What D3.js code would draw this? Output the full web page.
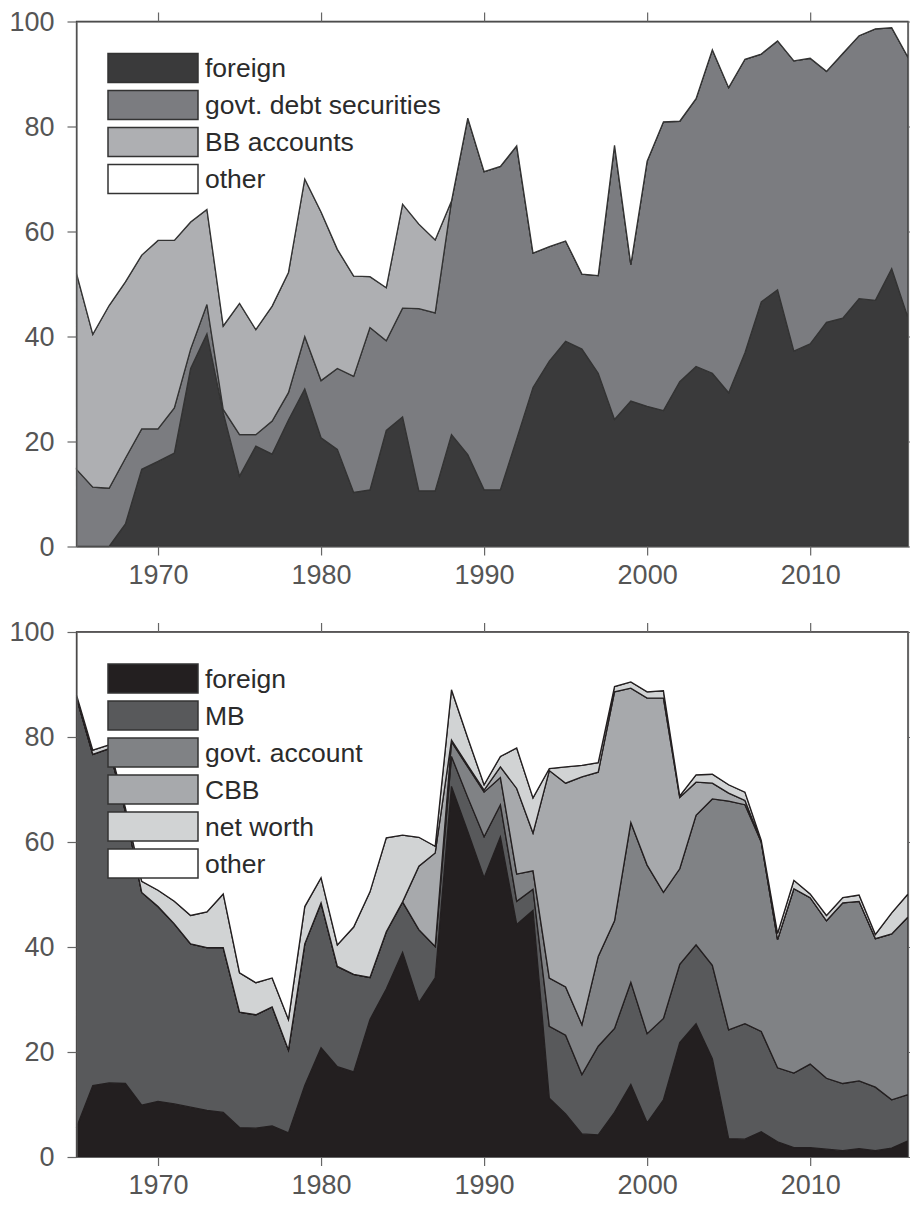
<!DOCTYPE html>
<html>
<head>
<meta charset="utf-8">
<script src="https://cdn.jsdelivr.net/npm/d3@7"></script>
<style>
  body { margin: 0; background: #fff; }
  svg text { font-family: "Liberation Sans", Arial, Helvetica, sans-serif; }
</style>
</head>
<body>
<div id="chart"></div>
<script>
// years shared by both panels
const years = [1965, 1966, 1967, 1968, 1969, 1970, 1971, 1972, 1973, 1974,
  1975, 1976, 1977, 1978, 1979, 1980, 1981, 1982, 1983, 1984,
  1985, 1986, 1987, 1988, 1989, 1990, 1991, 1992, 1993, 1994,
  1995, 1996, 1997, 1998, 1999, 2000, 2001, 2002, 2003, 2004,
  2005, 2006, 2007, 2008, 2009, 2010, 2011, 2012, 2013, 2014,
  2015, 2016]

const xTicks = [1970, 1980, 1990, 2000, 2010]
const yTicks = [0, 20, 40, 60, 80, 100]

// top panel shares (percent)
const topForeign = [0, 0, 0, 4.3, 14.7, 16.2, 17.8, 33.9, 40.5, 25.5,
  13.4, 19.1, 17.6, 24.1, 30.0, 20.7, 18.5, 10.3, 10.8, 22.1,
  24.7, 10.6, 10.6, 21.3, 17.5, 10.8, 10.8, 20.5, 30.3, 35.3,
  39.1, 37.6, 33.0, 24.2, 27.7, 26.7, 25.9, 31.4, 34.3, 33.0,
  29.3, 36.9, 46.6, 48.9, 37.2, 38.6, 42.7, 43.5, 47.2, 46.9,
  52.9, 43.6]
const topGovtDebt = [14.7, 11.3, 11.1, 12.5, 7.7, 6.2, 8.6, 3.7, 5.6, 0.6,
  7.9, 2.2, 6.3, 5.2, 10.0, 10.9, 15.4, 22.1, 30.9, 17.1,
  20.7, 34.7, 33.9, 44.5, 64.1, 60.6, 61.6, 55.8, 25.6, 21.8,
  19.1, 14.3, 18.6, 52.2, 26.0, 46.7, 55.0, 49.6, 51.0, 61.6,
  58.1, 55.9, 47.2, 47.4, 55.3, 54.4, 47.8, 50.4, 50.1, 51.7,
  45.9, 49.6]
const topBBAccounts = [37.3, 29.1, 34.8, 33.6, 33.1, 35.9, 31.9, 24.2, 18.1, 15.9,
  25.0, 20.0, 21.9, 22.9, 30.0, 32.1, 22.7, 19.1, 9.7, 10.1,
  19.8, 16.1, 13.9, 0, 0, 0, 0, 0, 0, 0,
  0, 0, 0, 0, 0, 0, 0, 0, 0, 0,
  0, 0, 0, 0, 0, 0, 0, 0, 0, 0,
  0, 0]

// bottom panel shares (percent)
const botForeign = [5.6, 13.6, 14.1, 14.0, 9.9, 10.6, 10.1, 9.5, 8.9, 8.5,
  5.6, 5.5, 5.9, 4.6, 13.6, 20.8, 17.2, 16.2, 26.2, 32.0,
  39.0, 29.4, 34.1, 70.6, 62.0, 53.2, 61.0, 44.3, 47.0, 11.2,
  8.2, 4.4, 4.2, 8.5, 13.8, 6.5, 10.9, 21.8, 25.4, 18.7,
  3.5, 3.4, 4.8, 2.9, 1.8, 1.8, 1.5, 1.2, 1.6, 1.2,
  1.7, 3.1]
const botMB = [81.9, 63.1, 63.7, 51.8, 40.5, 37.1, 34.3, 31.1, 31.0, 31.4,
  22.0, 21.6, 22.7, 15.8, 27.0, 27.6, 19.1, 18.6, 8.0, 10.9,
  9.6, 13.9, 6.0, 5.7, 6.5, 7.8, 6.1, 4.4, 4.0, 13.7,
  15.0, 11.3, 16.9, 16.0, 19.5, 17.0, 15.5, 14.9, 15.0, 17.8,
  20.7, 22.0, 19.1, 14.1, 14.2, 15.9, 13.5, 12.8, 12.9, 12.1,
  9.2, 8.8]
const botGovtAccount = [0, 0, 0, 0, 0, 0, 0, 0, 0, 0,
  0, 0, 0, 0, 0, 0, 0, 0, 0, 0,
  0, 0, 0, 2.8, 5.8, 8.5, 5.2, 5.2, 3.5, 9.2,
  9.2, 9.5, 17.1, 20.5, 30.4, 32.1, 24.0, 18.2, 24.7, 31.7,
  43.6, 41.7, 36.1, 24.4, 35.1, 31.7, 30.0, 34.4, 34.2, 28.3,
  31.6, 33.8]
const botCBB = [0, 0, 0, 0, 0, 0, 0, 0, 0, 0,
  0, 0, 0, 0, 0, 0, 0, 0, 0, 0,
  0, 12.1, 17.8, 0.3, 0.3, 0.4, 2.0, 16.3, 7.2, 39.5,
  38.8, 47.2, 35.1, 43.6, 25.6, 31.8, 37.0, 13.6, 6.3, 3.0,
  1.5, 0.8, 0, 0, 0, 0, 0, 0, 0, 0,
  0, 0]
const botNetWorth = [0.5, 0.8, 0.7, 0.7, 2.1, 3.1, 4.3, 5.4, 6.8, 10.2,
  7.5, 6.1, 5.5, 5.8, 7.1, 4.8, 4.1, 9.0, 16.3, 17.9,
  12.7, 5.5, 1.3, 9.6, 5.2, 1.0, 2.0, 7.7, 6.7, 0.4,
  3.1, 2.2, 1.8, 1.0, 1.2, 1.2, 1.4, 0.3, 1.4, 1.7,
  1.6, 1.6, 0.3, 1.2, 1.6, 0.7, 1.0, 1.0, 1.2, 0.8,
  4.0, 4.4]

const topSeries = [
  { name: 'foreign', values: topForeign, color: '#3a3a3b' },
  { name: 'govt. debt securities', values: topGovtDebt, color: '#7b7c80' },
  { name: 'BB accounts', values: topBBAccounts, color: '#aeafb2' },
  { name: 'other', values: null, color: '#ffffff' }
]
const bottomSeries = [
  { name: 'foreign', values: botForeign, color: '#231f20' },
  { name: 'MB', values: botMB, color: '#58595b' },
  { name: 'govt. account', values: botGovtAccount, color: '#808285' },
  { name: 'CBB', values: botCBB, color: '#a7a9ac' },
  { name: 'net worth', values: botNetWorth, color: '#d1d3d4' },
  { name: 'other', values: null, color: '#ffffff' }
]

const config = {
  width: 910,
  height: 1210,
  left: 76.5,
  right: 908,
  panelHeight: 525,
  tickSize: 9,
  fontSize: 27,
  axisColor: '#666',
  labelColor: '#555',
  legend: { x: 108, top: 32, step: 37, w: 90, h: 29, textX: 205 }
}

const svg = d3.select('#chart')
  .append('svg')
  .attr('width', config.width)
  .attr('height', config.height)

const x = d3.scaleLinear().domain([1965, 2016]).range([config.left, config.right])

const drawPanel = (series, top, strokeColor) => {
  const y = d3.scaleLinear().domain([0, 100]).range([top + config.panelHeight, top])

  // table of rows; "other" is whatever is left up to 100
  const keys = series.map(s => s.name)
  const table = years.map((yr, i) => {
    const row = { year: yr }
    let sum = 0
    series.forEach(s => {
      if (s.values) {
        row[s.name] = s.values[i]
        sum += s.values[i]
      }
    })
    row.other = Math.max(0, 100 - sum)
    return row
  })

  const stacked = d3.stack().keys(keys)(table)

  const area = d3.area()
    .x(d => x(d.data.year))
    .y0(d => y(d[0]))
    .y1(d => y(Math.min(d[1], 100)))

  const g = svg.append('g')

  g.selectAll('path.layer')
    .data(stacked)
    .enter()
    .append('path')
    .attr('class', 'layer')
    .attr('d', area)
    .attr('fill', (d, i) => series[i].color)
    .attr('stroke', strokeColor)
    .attr('stroke-width', 1.3)
    .attr('stroke-linejoin', 'miter')

  // axes, ticks outward on all four sides (matlab box style)
  const styleAxis = sel => {
    sel.selectAll('path.domain').attr('stroke', config.axisColor).attr('stroke-width', 1.2)
    sel.selectAll('.tick line').attr('stroke', config.axisColor).attr('stroke-width', 1.2)
    sel.selectAll('.tick text')
      .attr('fill', config.labelColor)
      .style('font-size', config.fontSize + 'px')
  }

  g.append('g')
    .attr('transform', `translate(0,${top + config.panelHeight})`)
    .call(d3.axisBottom(x).tickValues(xTicks).tickFormat(d3.format('d'))
      .tickSize(config.tickSize).tickSizeOuter(0).tickPadding(9))
    .call(styleAxis)

  g.append('g')
    .attr('transform', `translate(0,${top})`)
    .call(d3.axisTop(x).tickValues(xTicks).tickFormat('')
      .tickSize(config.tickSize).tickSizeOuter(0))
    .call(styleAxis)

  g.append('g')
    .attr('transform', `translate(${config.left},0)`)
    .call(d3.axisLeft(y).tickValues(yTicks)
      .tickSize(config.tickSize).tickSizeOuter(0).tickPadding(13))
    .call(styleAxis)

  g.append('g')
    .attr('transform', `translate(${config.right},0)`)
    .call(d3.axisRight(y).tickValues(yTicks).tickFormat('')
      .tickSize(config.tickSize).tickSizeOuter(0))
    .call(styleAxis)

  // legend
  const lg = config.legend
  const item = g.append('g')
    .selectAll('g')
    .data(series)
    .enter()
    .append('g')
    .attr('transform', (d, i) => `translate(${lg.x},${top + lg.top + i * lg.step})`)

  item.append('rect')
    .attr('width', lg.w)
    .attr('height', lg.h)
    .attr('fill', d => d.color)
    .attr('stroke', '#333')
    .attr('stroke-width', 1.5)

  item.append('text')
    .attr('x', lg.textX - lg.x)
    .attr('y', lg.h / 2)
    .attr('dy', '0.35em')
    .attr('fill', '#2b2b2b')
    .style('font-size', '26.5px')
    .text(d => d.name)
}

drawPanel(topSeries, 21.5, '#333')
drawPanel(bottomSeries, 632, '#231f20')
</script>
</body>
</html>
